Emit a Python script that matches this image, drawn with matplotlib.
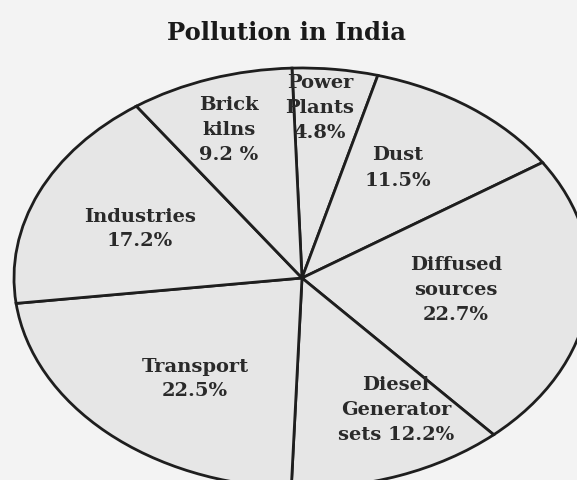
#!/usr/bin/env python3
# coding=UTF-8
"""Pie chart of pollution sources in India, drawn as a squashed ellipse."""
import matplotlib
matplotlib.use('Agg')
import matplotlib.pyplot as plt

# Data (clockwise from the top)
sources = ['Power\nPlants', 'Dust', 'Diffused\nsources', 'Diesel\nGenerator\nsets',
           'Transport', 'Industries', 'Brick\nkilns']
shares = [4.8, 11.5, 22.7, 12.2, 22.5, 17.2, 9.2]
share_text = ['4.8%', '11.5%', '22.7%', '12.2%', '22.5%', '17.2%', '9.2 %']

# Label centres in pixels (x from left, y from top) of the 577x480 picture
label_pos = [(320, 108), (398, 168), (456, 290), (396, 410),
             (195, 379), (140, 229), (229, 130)]

W, H = 577, 480


def main():
    plt.rcParams['font.family'] = ['DejaVu Serif']
    fig = plt.figure(figsize=(W / 100, H / 100), dpi=100, facecolor='#f3f3f3')

    # ellipse centre (302, 278) px, radii 288 x 210 px
    cx, cy, rx, ry = 302, 278, 288, 210
    ax = fig.add_axes([(cx - rx) / W, (H - cy - ry) / H, 2 * rx / W, 2 * ry / H])
    ax.pie(shares, startangle=92, counterclock=False,
           colors=['#e6e6e6'] * len(shares),
           wedgeprops=dict(edgecolor='#1e1e1e', linewidth=2.0))
    ax.set_aspect('auto')
    ax.set_xlim(-1, 1)
    ax.set_ylim(-1, 1)
    ax.axis('off')

    fig.text(286 / W, 1 - 33 / H, 'Pollution in India', ha='center', va='center',
             fontsize=17.5, fontweight='bold', color='#1a1a1a')

    for name, pct, (x, y) in zip(sources, share_text, label_pos):
        if name.startswith('Diesel'):
            text = 'Diesel\nGenerator\nsets ' + pct
        else:
            text = name + '\n' + pct
        fig.text(x / W, 1 - y / H, text, ha='center', va='center',
                 fontsize=14, fontweight='bold', color='#2a2a2a',
                 linespacing=1.5)

    fig.savefig('out.png', dpi=100, facecolor=fig.get_facecolor())
    return 0


if __name__ == '__main__':
    main()
